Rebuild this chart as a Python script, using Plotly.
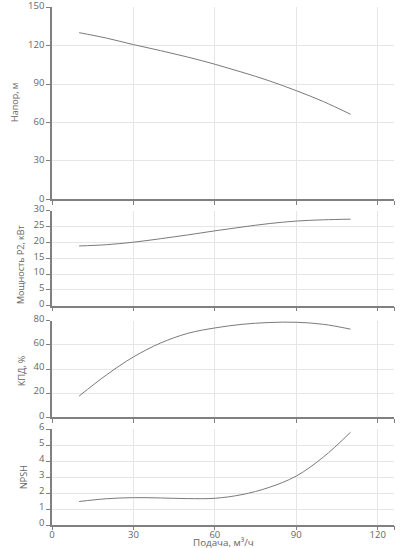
import plotly.graph_objects as go

# ---- data ----
flow = [10, 20, 30, 40, 50, 60, 70, 80, 90, 100, 110]
head = [130, 125.8, 120.7, 116.0, 111.0, 105.4, 99.2, 92.5, 84.8, 76.3, 66.4]
power = [18.9, 19.3, 20.1, 21.2, 22.4, 23.7, 24.9, 26.0, 26.8, 27.2, 27.4]
efficiency = [17.6, 35.0, 50.0, 61.5, 69.5, 74.0, 77.0, 78.5, 78.7, 77.0, 73.0]
npsh = [1.47, 1.64, 1.71, 1.69, 1.65, 1.67, 1.9, 2.35, 3.06, 4.25, 5.8]

x_tickvals = [0, 30, 60, 90, 120, 126]
x_ticktext = ["0", "30", "60", "90", "120", ""]
x_title = "Подача, м³/ч"

titles = ["Напор, м", "Мощность P2, кВт", "КПД, %", "NPSH"]
series = [head, power, efficiency, npsh]
y_ranges = [[0, 150], [0, 30], [0, 80], [0, 6]]
y_dticks = [30, 5, 20, 1]

# ---- layout geometry ----
W, H = 402, 548
ML, MR, MT, MB = 52, 8, 7, 23
domains = [[0.6284, 1.0], [0.4237, 0.6062], [0.2079, 0.3944], [0.0, 0.1853]]
title_pos = [(15, 103), (20, 264), (22, 371), (23, 477)]
label_shift = [-1, -2, -2, -2]

AX = "#808080"
GRID = "#e6e6e6"
TXT = "#666666"
FONT = "Open Sans"

fig = go.Figure()
layout = dict(
    width=W, height=H,
    margin=dict(l=ML, r=MR, t=MT, b=MB, pad=0),
    paper_bgcolor="white", plot_bgcolor="white",
    showlegend=False,
    font=dict(family=FONT, size=10, color=TXT),
    annotations=[],
)

pw = W - ML - MR
ph = H - MT - MB

for i in range(4):
    n = "" if i == 0 else str(i + 1)
    last = (i == 3)
    fig.add_trace(go.Scatter(
        x=flow, y=series[i], mode="lines",
        line=dict(color="#7a7a7a", width=1, shape="spline", smoothing=1.0),
        xaxis="x" + n, yaxis="y" + n, hoverinfo="skip",
    ))
    layout["xaxis" + n] = dict(
        domain=[0, 1], range=[0, 126], anchor="y" + n,
        tickmode="array", tickvals=x_tickvals, ticktext=x_ticktext,
        showticklabels=last, ticks="outside", ticklen=(0 if last else 4),
        tickcolor=AX,
        showline=True, linecolor=AX, linewidth=1.5,
        showgrid=True, gridcolor=GRID, gridwidth=1, zeroline=False,
        tickfont=dict(family=FONT, size=9.5, color=TXT),
        automargin=False, fixedrange=True,
        **({} if i == 0 else {"matches": "x"}),
    )
    layout["yaxis" + n] = dict(
        domain=domains[i], range=y_ranges[i], anchor="x" + n,
        dtick=y_dticks[i], tick0=0,
        ticks="outside", ticklen=4, tickcolor=AX,
        showline=True, linecolor=AX, linewidth=1.5,
        showgrid=True, gridcolor=GRID, gridwidth=1, zeroline=False,
        tickfont=dict(family=FONT, size=9.5, color=TXT),
        ticklabelshift=label_shift[i], ticklabeloverflow="allow",
        automargin=False, fixedrange=True,
    )
    xp, yp = title_pos[i]
    layout["annotations"].append(dict(
        text=titles[i], xref="paper", yref="paper",
        x=(xp - ML) / pw, y=(H - MB - yp) / ph,
        xanchor="center", yanchor="middle", textangle=-90, showarrow=False,
        font=dict(family=FONT, size=9, color=TXT),
    ))

# overlay axis that only draws the tick marks of the bottom panel
fig.add_trace(go.Scatter(x=[None], y=[None], xaxis="x5", yaxis="y4",
                         mode="lines", hoverinfo="skip", showlegend=False))
layout["xaxis5"] = dict(
    overlaying="x4", anchor="y4", range=[0, 126],
    tickmode="array", tickvals=x_tickvals, showticklabels=False,
    ticks="outside", ticklen=4, tickcolor=AX,
    showline=False, showgrid=False, zeroline=False,
    automargin=False, fixedrange=True,
)

layout["annotations"].append(dict(
    text=x_title, xref="paper", yref="paper",
    x=(223 - ML) / pw, y=(H - MB - 542.5) / ph,
    xanchor="center", yanchor="middle", showarrow=False,
    font=dict(family=FONT, size=9.8, color=TXT),
))

fig.update_layout(**layout)
fig.write_html("out.html", config={"displayModeBar": False})
